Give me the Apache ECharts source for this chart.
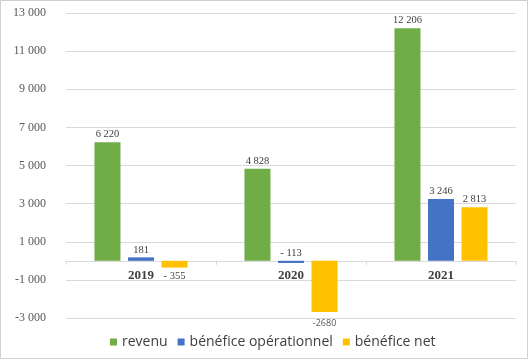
<!DOCTYPE html>
<html><head><meta charset="utf-8">
<script src="https://cdn.jsdelivr.net/npm/echarts@6/dist/echarts.min.js"></script>
<style>html,body{margin:0;padding:0;background:#fff}#c{width:529px;height:360px}</style>
</head><body><div id="c"></div>
<script>
const categories = ['2019', '2020', '2021'];
const seriesNames = ['revenu', 'bénéfice opérationnel', 'bénéfice net'];
const revenu = [6220, 4828, 12206];
const beneficeOperationnel = [181, -113, 3246];
const beneficeNet = [-355, -2680, 2813];
const yMin = -3000, yMax = 13000, yStep = 2000;

const colors = ['#70AD47', '#4472C4', '#FFC000'];
const gridTop = 13, gridBottom = 42, H = 360;
const plotH = H - gridTop - gridBottom;
const zeroOffset = -plotH * (0 - yMin) / (yMax - yMin);

function fmtThousands(v) {
  return String(Math.abs(v)).replace(/\B(?=(\d{3})+(?!\d))/g, ' ');
}
function fmtLabel(v) {
  if (v < 0) return Math.abs(v) >= 1000 ? '-' + Math.abs(v) : '- ' + fmtThousands(v);
  return fmtThousands(v);
}
const baseLabel = { show: true, position: 'top', distance: 2, fontFamily: 'Liberation Serif', fontSize: 10.5, color: '#404040', formatter: p => fmtLabel(p.value) };
function makeData(values, sIdx) {
  return values.map((v) => {
    const item = { value: v };
    if (v < 0 && sIdx === 2) {
      item.label = { position: 'bottom', distance: 3 };
      if (v <= -1000) item.label = { position: 'bottom', distance: 7, fontFamily: 'Open Sans', fontSize: 9, color: '#595959' };
    }
    return item;
  });
}
const allValues = [revenu, beneficeOperationnel, beneficeNet];
const chart = echarts.init(document.getElementById('c'), null, { renderer: 'canvas' });
chart.setOption({
  animation: false,
  backgroundColor: '#fff',
  grid: { left: 66, right: 13, top: gridTop, bottom: gridBottom, containLabel: false },
  graphic: [{ type: 'rect', shape: { x: 0.5, y: 0.5, width: 527, height: 358 }, style: { fill: 'none', stroke: '#d0d0d0', lineWidth: 1 }, silent: true }],
  legend: {
    left: 105, top: 330, itemWidth: 7, itemHeight: 7, itemGap: 10, icon: 'rect',
    textStyle: { fontFamily: 'Open Sans', fontSize: 14, color: '#404040' },
    data: seriesNames
  },
  xAxis: {
    type: 'category', data: categories, offset: zeroOffset,
    axisLine: { onZero: false, lineStyle: { color: '#d9d9d9' } },
    axisTick: { show: true, length: 4, lineStyle: { color: '#d9d9d9' } },
    axisLabel: { fontFamily: 'Liberation Serif', fontWeight: 'bold', fontSize: 13, color: '#404040', margin: 8 }
  },
  yAxis: {
    type: 'value', min: yMin, max: yMax, interval: yStep,
    axisLine: { show: false }, axisTick: { show: false },
    splitLine: { lineStyle: { color: '#d9d9d9' } },
    axisLabel: { fontFamily: 'Liberation Serif', fontSize: 12, color: '#595959', margin: 20,
      formatter: v => (v < 0 ? '-' : '') + fmtThousands(v) }
  },
  series: seriesNames.map((n, s) => ({
    name: n, type: 'bar', barWidth: 26, barGap: '29%',
    itemStyle: { color: colors[s] },
    label: baseLabel,
    data: makeData(allValues[s], s)
  }))
});
</script></body></html>
